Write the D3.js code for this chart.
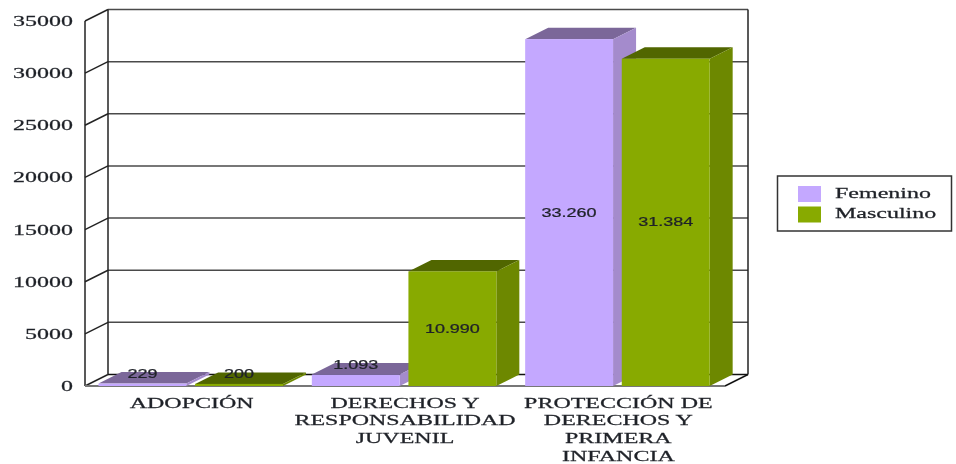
<!DOCTYPE html>
<html>
<head>
<meta charset="utf-8">
<script src="https://cdn.jsdelivr.net/npm/d3@7"></script>
<style>
html, body { margin: 0; padding: 0; background: #fff; }
svg { display: block; filter: blur(0.55px); }
</style>
</head>
<body>
<script>
var categories = [['ADOPCIÓN'], ['DERECHOS Y', 'RESPONSABILIDAD', 'JUVENIL'], ['PROTECCIÓN DE', 'DERECHOS Y', 'PRIMERA', 'INFANCIA']];
var seriesNames = ['Femenino', 'Masculino'];
var femenino = [229, 1093, 33260];
var masculino = [200, 10990, 31384];
var valueLabels = [['229', '1.093', '33.260'], ['200', '10.990', '31.384']];
var yTicks = [0, 5000, 10000, 15000, 20000, 25000, 30000, 35000];

var colors = [
    {front: '#c4a8ff', top: '#7b6799', side: '#a48bcc'},
    {front: '#88aa00', top: '#516600', side: '#6d8800'}
];
var depthX = 23, depthY = -11.5;
var serifStretch = 1.6, sansStretch = 1.5;

var svg = d3.select('body').append('svg').attr('width', 956).attr('height', 464);

var x0 = d3.scaleBand().domain([0, 1, 2]).range([85, 725]);
var x1 = d3.scaleBand().domain([0, 1]).range([13.5, 198]).paddingInner(0.09);
var y = d3.scaleLinear().domain([0, 35000]).range([386, 21]);

// text in the picture is wider than it is tall
function wideText(sel, px, py, font, size, stretch, anchor, txt) {
    return sel.append('text')
        .attr('transform', 'translate(' + px + ',' + py + ') scale(' + stretch + ',1)')
        .attr('font-family', font)
        .attr('font-size', size)
        .attr('text-anchor', anchor)
        .attr('fill', '#1f2228')
        .attr('stroke', '#1f2228')
        .attr('stroke-width', 0.25)
        .text(txt);
}

// back wall grid
var grid = svg.append('g');
grid.selectAll('line.grid')
    .data(yTicks)
    .enter().append('line')
        .attr('class', 'grid')
        .attr('x1', 85 + depthX).attr('x2', 725 + depthX)
        .attr('y1', function(d){return y(d) + depthY;})
        .attr('y2', function(d){return y(d) + depthY;})
        .attr('stroke', function(d){return d == 0 ? '#111' : '#4a4a4a';})
        .attr('stroke-width', 1.5);

// slanted ticks on the side wall
grid.selectAll('line.slant')
    .data(yTicks)
    .enter().append('line')
        .attr('class', 'slant')
        .attr('x1', 85).attr('x2', 85 + depthX)
        .attr('y1', function(d){return y(d);})
        .attr('y2', function(d){return y(d) + depthY;})
        .attr('stroke', '#222').attr('stroke-width', 1.5);

grid.append('line').attr('x1', 85).attr('x2', 85).attr('y1', y(35000)).attr('y2', y(0)).attr('stroke', '#222').attr('stroke-width', 1.5);
grid.append('line').attr('x1', 85 + depthX).attr('x2', 85 + depthX).attr('y1', y(35000) + depthY).attr('y2', y(0) + depthY).attr('stroke', '#222').attr('stroke-width', 1.5);
grid.append('line').attr('x1', 725 + depthX).attr('x2', 725 + depthX).attr('y1', y(35000) + depthY).attr('y2', y(0) + depthY).attr('stroke', '#222').attr('stroke-width', 1.5);
grid.append('line').attr('x1', 725).attr('x2', 725 + depthX).attr('y1', y(0)).attr('y2', y(0) + depthY).attr('stroke', '#111').attr('stroke-width', 1.5);
grid.append('line').attr('x1', 85).attr('x2', 725).attr('y1', y(0)).attr('y2', y(0)).attr('stroke', '#777').attr('stroke-width', 2);

// y axis labels
var yAxis = svg.append('g')
    .attr('transform', 'translate(73,0)')
    .call(d3.axisLeft(y).tickValues(yTicks).tickSize(0).tickPadding(0).tickFormat(d3.format('d')));
yAxis.select('.domain').remove();
yAxis.selectAll('text')
    .attr('font-family', 'Liberation Serif')
    .attr('font-size', 15)
    .attr('fill', '#1f2228')
    .attr('stroke', '#1f2228')
    .attr('stroke-width', 0.25)
    .attr('dy', '0.3em')
    .attr('transform', 'scale(' + serifStretch + ',1)');

// bars
[femenino, masculino].forEach(function(values, s){
    var c = colors[s];
    var bars = svg.append('g').attr('class', 'series' + s);
    values.forEach(function(v, i){
        var left = x0(i) + x1(s), right = left + x1.bandwidth();
        var top = y(v), bottom = y(0);
        bars.append('polygon')
            .attr('points', [[left, top], [left + depthX, top + depthY], [right + depthX, top + depthY], [right, top]].join(' '))
            .attr('fill', c.top);
        bars.append('polygon')
            .attr('points', [[right, top], [right + depthX, top + depthY], [right + depthX, bottom + depthY], [right, bottom]].join(' '))
            .attr('fill', c.side);
        bars.append('rect')
            .attr('x', left).attr('y', top)
            .attr('width', right - left).attr('height', bottom - top)
            .attr('fill', c.front);
    });
});

// value labels, on top of all the bars
[femenino, masculino].forEach(function(values, s){
    var g = svg.append('g');
    values.forEach(function(v, i){
        var cx = x0(i) + x1(s) + x1.bandwidth() / 2;
        var h = y(0) - y(v);
        var py = h > 40 ? y(v) + h / 2 + 4 : y(v) - 6;
        wideText(g, cx, py, 'Liberation Sans', 12, sansStretch, 'middle', valueLabels[s][i]);
    });
});

// category labels
var labels = svg.append('g');
categories.forEach(function(lines, i){
    lines.forEach(function(t, k){
        wideText(labels, x0(i) + x0.bandwidth() / 2, 407.5 + k * 17.9, 'Liberation Serif', 15, serifStretch, 'middle', t);
    });
});

// legend
var legend = svg.append('g');
legend.append('rect').attr('x', 777.5).attr('y', 176).attr('width', 174).attr('height', 55)
    .attr('fill', '#fff').attr('stroke', '#333').attr('stroke-width', 1.5);
seriesNames.forEach(function(name, i){
    legend.append('rect').attr('x', 798).attr('y', 186 + i * 20.5).attr('width', 23).attr('height', 16).attr('fill', colors[i].front);
    wideText(legend, 835, 198 + i * 20, 'Liberation Serif', 15, serifStretch, 'start', name);
});
</script>
</body>
</html>
